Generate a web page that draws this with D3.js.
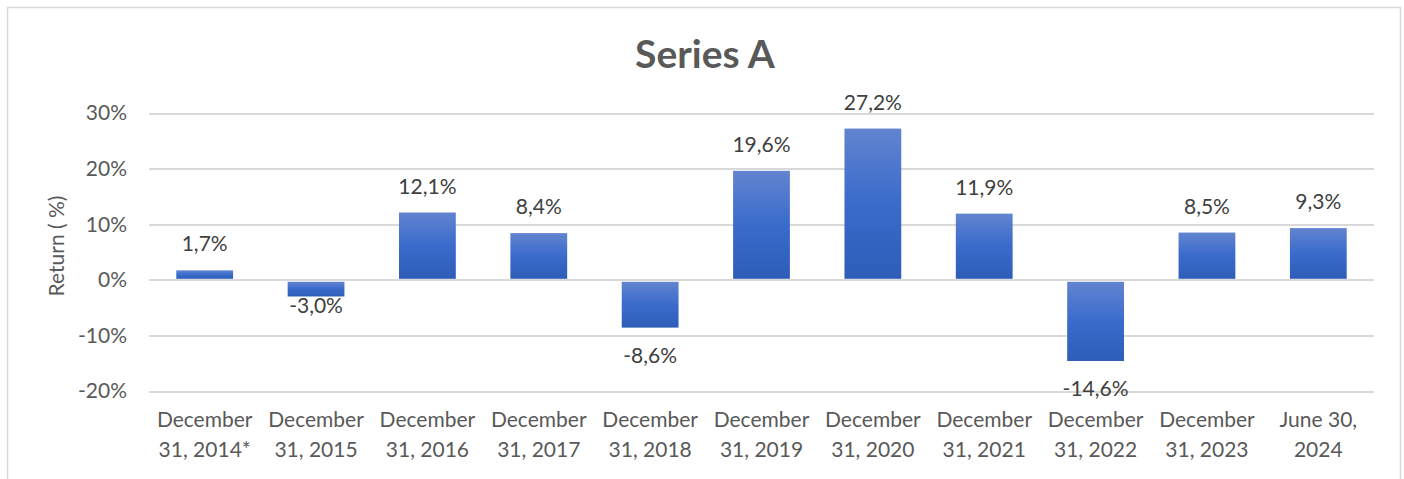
<!DOCTYPE html>
<html>
<head>
<meta charset="utf-8">
<style>
body { margin: 0; background: #fff; }
svg { display: block; font-family: Lato, "Open Sans", sans-serif; }
.grid line { stroke: #d9d9d9; stroke-width: 2px; shape-rendering: crispEdges; }
.grid path { display: none; }
</style>
</head>
<body>
<svg width="1404" height="479"></svg>
<script src="https://cdnjs.cloudflare.com/ajax/libs/d3/7.8.5/d3.min.js"></script>
<script>
var categories = [
  ["December", "31, 2014*"], ["December", "31, 2015"], ["December", "31, 2016"],
  ["December", "31, 2017"], ["December", "31, 2018"], ["December", "31, 2019"],
  ["December", "31, 2020"], ["December", "31, 2021"], ["December", "31, 2022"],
  ["December", "31, 2023"], ["June 30,", "2024"]
];
var values = [1.7, -3.0, 12.1, 8.4, -8.6, 19.6, 27.2, 11.9, -14.6, 8.5, 9.3];
var yTicks = [-20, -10, 0, 10, 20, 30];

var svg = d3.select("svg"),
    margin = {top: 113, right: 30, bottom: 88, left: 149},
    width = 1374 - margin.left,
    height = 391 - margin.top,
    g = svg.append("g").attr("transform", "translate(" + margin.left + "," + margin.top + ")");

// chart border
svg.append("rect")
    .attr("x", 7.5).attr("y", 7.5)
    .attr("width", 1393).attr("height", 480)
    .attr("fill", "none").attr("stroke", "#d9d9d9").attr("stroke-width", 1.5);

var x = d3.scaleBand()
    .domain(d3.range(categories.length))
    .range([0, width])
    .paddingInner(0.49)
    .paddingOuter(0.245);

var y = d3.scaleLinear()
    .domain([-20, 30])
    .range([height, 0]);

var defs = svg.append("defs");
var grad = defs.append("linearGradient")
    .attr("id", "barGrad")
    .attr("x1", 0).attr("y1", 0).attr("x2", 0).attr("y2", 1);
grad.append("stop").attr("offset", "0%").attr("stop-color", "#6284cf");
grad.append("stop").attr("offset", "50%").attr("stop-color", "#3a6bcc");
grad.append("stop").attr("offset", "100%").attr("stop-color", "#2e5db8");

g.append("g")
    .attr("class", "grid")
    .call(d3.axisLeft(y).tickValues(yTicks).tickSize(-width).tickFormat(""));

g.selectAll(".ytick")
    .data(yTicks)
    .enter().append("text")
      .attr("x", -22)
      .attr("y", function(d) { return y(d); })
      .attr("dy", "0.35em")
      .attr("text-anchor", "end")
      .attr("fill", "#595959")
      .attr("font-size", 21)
      .text(function(d) { return d + "%"; });

g.selectAll(".bar")
    .data(values)
    .enter().append("rect")
      .attr("x", function(d, i) { return x(i); })
      .attr("y", function(d) { return d >= 0 ? y(d) : y(0) + 2; })
      .attr("width", x.bandwidth())
      .attr("height", function(d) { return d >= 0 ? y(0) - y(d) - 1 : y(d) - y(0) - 2; })
      .attr("fill", "url(#barGrad)");

g.selectAll(".label")
    .data(values)
    .enter().append("text")
      .attr("x", function(d, i) { return x(i) + x.bandwidth() / 2; })
      .attr("y", function(d) { return d >= 0 ? y(d) - 19 : (d > -5 ? y(d) + 17 : y(d) + 35); })
      .attr("text-anchor", "middle")
      .attr("fill", "#404040")
      .attr("font-size", 21)
      .text(function(d) { return d.toFixed(1).replace(".", ",") + "%"; });

var xl = g.selectAll(".xlab")
    .data(categories)
    .enter().append("text")
      .attr("x", function(d, i) { return x(i) + x.bandwidth() / 2; })
      .attr("y", height + 36)
      .attr("text-anchor", "middle")
      .attr("fill", "#595959")
      .attr("font-size", 21);
xl.append("tspan")
    .attr("x", function(d, i) { return x(i) + x.bandwidth() / 2; })
    .text(function(d) { return d[0]; });
xl.append("tspan")
    .attr("x", function(d, i) { return x(i) + x.bandwidth() / 2; })
    .attr("dy", 30)
    .text(function(d) { return d[1]; });

svg.append("text")
    .attr("transform", "translate(64," + 246 + ") rotate(-90)")
    .attr("text-anchor", "middle")
    .attr("fill", "#595959")
    .attr("font-size", 21)
    .text("Return ( %)");

svg.append("text")
    .attr("x", 705)
    .attr("y", 68)
    .attr("text-anchor", "middle")
    .attr("fill", "#595959")
    .attr("font-size", 39)
    .attr("font-weight", "bold")
    .text("Series A");
</script>
</body>
</html>
